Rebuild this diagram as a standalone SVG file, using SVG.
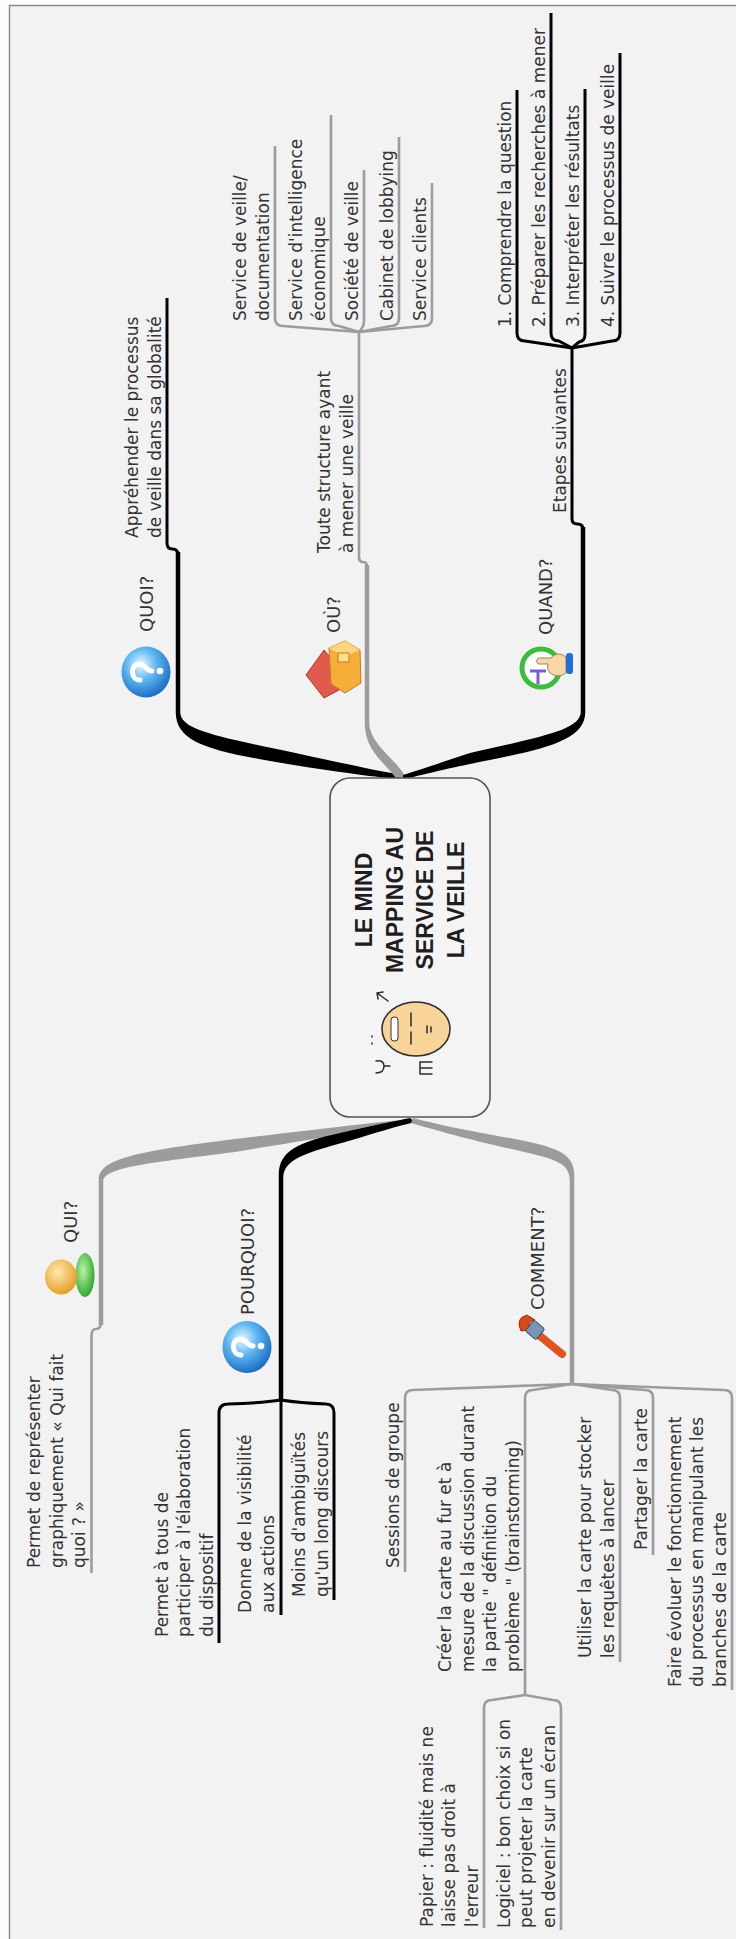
<svg xmlns="http://www.w3.org/2000/svg" width="736" height="1939" viewBox="0 0 736 1939">
  <defs>
    <style>
      .t { font-family: "DejaVu Sans", Verdana, sans-serif; font-size: 17px; fill: #333; }
      .m { font-family: "DejaVu Sans", Verdana, sans-serif; font-size: 18px; fill: #333; }
      .title { font-family: "Liberation Sans", Arial, sans-serif; font-weight: bold; font-size: 23px; fill: #1e1e1e; text-anchor: middle; }
      .kl { fill: none; stroke: #000; stroke-width: 3; stroke-linejoin: round; }
      .gl { fill: none; stroke: #9c9c9c; stroke-width: 2.6; stroke-linejoin: round; }
      .kf { fill: #000; }
      .gf { fill: #9c9c9c; }
      .ink { fill: none; stroke: #2b2b2b; stroke-width: 1.5; stroke-linecap: round; }
    </style>
    <radialGradient id="blueBall" cx="0.4" cy="0.35" r="0.7">
      <stop offset="0" stop-color="#eaf7ff"/>
      <stop offset="0.45" stop-color="#5cb6f0"/>
      <stop offset="1" stop-color="#1565c0"/>
    </radialGradient>
    <radialGradient id="headGrad" cx="0.4" cy="0.35" r="0.7">
      <stop offset="0" stop-color="#ffe9b0"/>
      <stop offset="1" stop-color="#e39a1c"/>
    </radialGradient>
    <radialGradient id="bodyGrad" cx="0.4" cy="0.4" r="0.7">
      <stop offset="0" stop-color="#b9f5a8"/>
      <stop offset="1" stop-color="#1f9e1f"/>
    </radialGradient>
  </defs>

  <!-- page and frame -->
  <rect x="0" y="0" width="736" height="1939" fill="#fbfbfb"/>
  <rect x="9.5" y="5.5" width="740" height="1945" fill="#f2f2f2" stroke="#8c8c8c" stroke-width="1.5"/>

  <!-- branch lines -->
  <g id="connectors">
    <!-- QUOI -->
    <path class="kf" d="M 175.75,552 L 175.75,712 C 175.75,745 215,752 300,766 C 350,774 385,778 401,779 L 401,775 C 380,771 345,764 300,754 C 215,736 180.25,730 180.25,712 L 180.25,552 Z"/>
    <path class="kl" stroke-width="3.5" d="M 167,298 V 543 Q 167,549 172.5,549 Q 178,549 178,555"/>

    <!-- OU -->
    <path class="gf" d="M 364.75,565 L 364.75,722 C 364.75,750 382,760 396,778 L 406,778 C 398,760 369.25,745 369.25,722 L 369.25,565 Z"/>
    <path class="gl" stroke-width="3" d="M 359,332 V 557 Q 359,562 363,562 Q 367,562 367,567"/>
    <path class="gl" d="M 275,146 V 318 Q 275,326 283,326 L 359,332"/>
    <path class="gl" d="M 331,115 V 318 Q 331,326 339,326 L 359,332"/>
    <path class="gl" d="M 364,170 V 321 Q 364,327 359,332"/>
    <path class="gl" d="M 399,137 V 318 Q 399,326 391,326 L 359,332"/>
    <path class="gl" d="M 432,183 V 318 Q 432,326 424,326 L 359,332"/>

    <!-- QUAND -->
    <path class="kf" d="M 585.25,527 L 585.25,712 C 585.25,742 540,750 470,764 C 440,770 415,777 403,779 L 403,775 C 420,770 445,761 470,753 C 540,737 580.75,730 580.75,712 L 580.75,527 Z"/>
    <path class="kl" stroke-width="3.5" d="M 572,348 V 519 Q 572,524 577.5,524 Q 583,524 583,529"/>
    <path class="kl" d="M 517,90 V 333 Q 517,341 525,341 L 572,348"/>
    <path class="kl" d="M 551,13 V 333 Q 551,341 559,341 L 572,348"/>
    <path class="kl" d="M 585,89 V 334 Q 585,341 579,342 L 572,348"/>
    <path class="kl" d="M 620,53 V 333 Q 620,341 612,341 L 572,348"/>

    <!-- QUI -->
    <path class="gf" d="M 98.75,1325 L 98.75,1180 C 98.75,1160 130,1152 235,1139 C 320,1129 380,1122 410,1119 L 416,1121 C 380,1128 320,1138 235,1152 C 140,1164 103.25,1168 103.25,1182 L 103.25,1325 Z"/>
    <path class="gl" stroke-width="3" d="M 101,1322 Q 101,1329 96,1329 Q 91.5,1329 91.5,1336 V 1573"/>

    <!-- POURQUOI -->
    <path class="kf" d="M 278.75,1402 L 278.75,1175 C 278.75,1150 300,1142 340,1133 C 370,1126 395,1121 410,1118 L 415,1122 C 398,1126 375,1133 352,1140 C 310,1152 283.25,1158 283.25,1178 L 283.25,1402 Z"/>
    <path class="kl" d="M 281,1400 V 1615"/>
    <path class="kl" d="M 281,1400 Q 262,1403 228,1404 Q 219,1404 219,1413 V 1643"/>
    <path class="kl" d="M 281,1400 Q 300,1403 326,1404 Q 334,1404 334,1413 V 1600"/>

    <!-- COMMENT -->
    <path class="gf" d="M 574.25,1384 L 574.25,1175 C 574.25,1155 560,1148 520,1140 C 470,1131 435,1124 413,1118 L 411,1123 C 435,1130 470,1140 520,1151 C 555,1159 569.75,1163 569.75,1180 L 569.75,1384 Z"/>
    <path class="gl" d="M 572,1384 L 413,1390 Q 405,1390 405,1398 V 1572"/>
    <path class="gl" d="M 572,1384 L 533,1390 Q 525,1390 525,1398 V 1695"/>
    <path class="gl" d="M 572,1384 L 612,1390 Q 620,1390 620,1398 V 1662"/>
    <path class="gl" d="M 572,1384 L 645,1390 Q 653,1390 653,1398 V 1555"/>
    <path class="gl" d="M 572,1384 L 724,1390 Q 732,1390 732,1398 V 1690"/>
    <path class="gl" d="M 525,1695 L 492,1700 Q 484,1700 484,1708 V 1928"/>
    <path class="gl" d="M 525,1695 L 553,1700 Q 561,1700 561,1708 V 1930"/>
  </g>

  <!-- central topic -->
  <g id="center">
    <rect x="330" y="778" width="160" height="339" rx="20" fill="#f4f4f4" stroke="#555" stroke-width="1.6"/>
    <text class="title" transform="translate(372,900) rotate(-90)"><tspan x="0" y="0">LE MIND</tspan><tspan x="0" dy="30.5">MAPPING AU</tspan><tspan x="0" dy="30.5">SERVICE DE</tspan><tspan x="0" dy="30.5">LA VEILLE</tspan></text>
    <g id="face">
      <ellipse cx="416" cy="1029" rx="34" ry="27" fill="#f8d49a" stroke="#2b2b2b" stroke-width="1.5"/>
      <rect x="391" y="1017" width="7" height="24" rx="3" fill="#fff" stroke="#333" stroke-width="1"/>
      <path class="ink" d="M 411,1013 V 1026 M 411,1032 V 1044"/>
      <path class="ink" d="M 427,1026 V 1033 M 431,1027 V 1032"/>
      <path class="ink" d="M 388,1001 L 377,993 M 377,993 L 378,999 M 377,993 L 383,992"/>
      <path class="ink" d="M 376,1061 Q 384,1060 384,1066 Q 384,1073 376,1073 M 384,1066 L 390,1066"/>
      <path class="ink" d="M 420,1062 H 432 M 420,1068 H 432 M 420,1074 H 432 M 420,1062 V 1074"/>
      <path class="ink" d="M 372,1036 V 1037 M 372,1043 V 1044"/>
    </g>
  </g>

  <!-- QUOI? -->
  <g id="quoi">
    <ellipse cx="146" cy="672" rx="24.5" ry="25.5" fill="url(#blueBall)"/>
    <g transform="translate(146,672) rotate(-90)">
      <path d="M -8,-6 C -8,-16 8,-16 8,-7 C 8,0 1,0 1,6" fill="none" stroke="#fff" stroke-width="5" stroke-linecap="round"/>
      <circle cx="1" cy="14" r="3.3" fill="#fff"/>
    </g>
    <text class="m" transform="translate(152.5,632) rotate(-90)">QUOI?</text>
  </g>
  <g id="quoi-global">
    <text class="t" transform="translate(138,538) rotate(-90)"><tspan x="0" y="0">Appréhender le processus</tspan><tspan x="0" dy="22.5">de veille dans sa globalité</tspan></text>
  </g>

  <!-- OÙ? -->
  <g id="ou">
    <polygon points="306,675 324,650 338,667 339,690 324,698" fill="#e25a4c" stroke="#a83a30" stroke-width="1"/>
    <polygon points="329,648 345,641 360,650 361,683 345,693 331,684" fill="#f7ad3a" stroke="#c7791a" stroke-width="1"/>
    <polygon points="329,648 345,641 360,650 344,657" fill="#ffd680"/>
    <rect x="338" y="653" width="11" height="9" fill="#ffe08a" stroke="#c7791a" stroke-width="1"/>
    <text class="m" transform="translate(339.5,633) rotate(-90)">OÙ?</text>
  </g>
  <g id="ou-structure">
    <text class="t" transform="translate(330,553) rotate(-90)"><tspan x="0" y="0">Toute structure ayant</tspan><tspan x="0" dy="22.5">à mener une veille</tspan></text>
  </g>
  <g id="ou-doc">
    <text class="t" transform="translate(246,321) rotate(-90)"><tspan x="0" y="0">Service de veille/</tspan><tspan x="0" dy="22.5">documentation</tspan></text>
  </g>
  <g id="ou-ie">
    <text class="t" transform="translate(302,321) rotate(-90)"><tspan x="0" y="0">Service d'intelligence</tspan><tspan x="0" dy="22.5">économique</tspan></text>
  </g>
  <g id="ou-societe">
    <text class="t" transform="translate(357.5,321) rotate(-90)">Société de veille</text>
  </g>
  <g id="ou-lobbying">
    <text class="t" transform="translate(392.5,321) rotate(-90)">Cabinet de lobbying</text>
  </g>
  <g id="ou-clients">
    <text class="t" transform="translate(425.5,321) rotate(-90)">Service clients</text>
  </g>

  <!-- QUAND? -->
  <g id="quand">
    <circle cx="541" cy="668" r="19" fill="#fff" stroke="#3dbb3d" stroke-width="5"/>
    <path d="M 530,671 H 546 M 538,671 V 684" fill="none" stroke="#7a5fd0" stroke-width="3"/>
    <path d="M 538,658 H 551 Q 556,652 563,655 L 566,657 L 566,673 Q 558,679 550,673 Q 546,669 548,664 H 538 Q 535,661 538,658 Z" fill="#f7d7a6" stroke="#a9834e" stroke-width="1"/>
    <rect x="566" y="653" width="7" height="21" rx="3" fill="#1e6fd9"/>
    <text class="m" transform="translate(551.5,635) rotate(-90)">QUAND?</text>
  </g>
  <g id="quand-etapes">
    <text class="t" transform="translate(565.5,513) rotate(-90)">Etapes suivantes</text>
  </g>
  <g id="quand-1">
    <text class="t" transform="translate(510.5,327) rotate(-90)">1. Comprendre la question</text>
  </g>
  <g id="quand-2">
    <text class="t" transform="translate(544.5,327) rotate(-90)">2. Préparer les recherches à mener</text>
  </g>
  <g id="quand-3">
    <text class="t" transform="translate(578.5,327) rotate(-90)">3. Interpréter les résultats</text>
  </g>
  <g id="quand-4">
    <text class="t" transform="translate(613.5,327) rotate(-90)">4. Suivre le processus de veille</text>
  </g>

  <!-- QUI? -->
  <g id="qui">
    <ellipse cx="85" cy="1275" rx="9.5" ry="22" fill="url(#bodyGrad)"/>
    <ellipse cx="61" cy="1277" rx="16" ry="17.5" fill="url(#headGrad)"/>
    <text class="m" transform="translate(76.5,1243) rotate(-90)">QUI?</text>
  </g>
  <g id="qui-permet">
    <text class="t" transform="translate(40,1568) rotate(-90)"><tspan x="0" y="0">Permet de représenter</tspan><tspan x="0" dy="22.5">graphiquement « Qui fait</tspan><tspan x="0" dy="22.5">quoi ? »</tspan></text>
  </g>

  <!-- POURQUOI? -->
  <g id="pourquoi">
    <ellipse cx="247" cy="1347" rx="24.5" ry="26" fill="url(#blueBall)"/>
    <g transform="translate(247,1347) rotate(-90)">
      <path d="M -8,-6 C -8,-16 8,-16 8,-7 C 8,0 1,0 1,6" fill="none" stroke="#fff" stroke-width="5" stroke-linecap="round"/>
      <circle cx="1" cy="14" r="3.3" fill="#fff"/>
    </g>
    <text class="m" transform="translate(253.5,1315) rotate(-90)">POURQUOI?</text>
  </g>
  <g id="pourquoi-tous">
    <text class="t" transform="translate(167.5,1637) rotate(-90)"><tspan x="0" y="0">Permet à tous de</tspan><tspan x="0" dy="22.5">participer à l'élaboration</tspan><tspan x="0" dy="22.5">du dispositif</tspan></text>
  </g>
  <g id="pourquoi-visibilite">
    <text class="t" transform="translate(251,1613) rotate(-90)"><tspan x="0" y="0">Donne de la visibilité</tspan><tspan x="0" dy="22.5">aux actions</tspan></text>
  </g>
  <g id="pourquoi-ambiguites">
    <text class="t" transform="translate(305,1597) rotate(-90)"><tspan x="0" y="0">Moins d'ambiguïtés</tspan><tspan x="0" dy="22.5">qu'un long discours</tspan></text>
  </g>

  <!-- COMMENT? -->
  <g id="comment">
    <path d="M 540,1336 L 562,1354" stroke="#e0521e" stroke-width="8" stroke-linecap="round"/>
    <path d="M 521,1331 Q 515,1318 527,1315 L 535,1320 Q 527,1321 529,1330 Z" fill="#d9481a" stroke="#9c2f10" stroke-width="1"/>
    <rect x="-7" y="-7" width="14" height="14" rx="2" transform="translate(535,1330) rotate(40)" fill="#7b95b5" stroke="#3d4f66" stroke-width="1"/>
    <text class="m" transform="translate(544,1310) rotate(-90)">COMMENT?</text>
  </g>
  <g id="comment-sessions">
    <text class="t" transform="translate(398.5,1568) rotate(-90)">Sessions de groupe</text>
  </g>
  <g id="comment-creer">
    <text class="t" transform="translate(451,1672) rotate(-90)"><tspan x="0" y="0">Créer la carte au fur et à</tspan><tspan x="0" dy="22.5">mesure de la discussion durant</tspan><tspan x="0" dy="22.5">la partie " définition du</tspan><tspan x="0" dy="22.5">problème " (brainstorming)</tspan></text>
  </g>
  <g id="comment-utiliser">
    <text class="t" transform="translate(591,1658) rotate(-90)"><tspan x="0" y="0">Utiliser la carte pour stocker</tspan><tspan x="0" dy="22.5">les requêtes à lancer</tspan></text>
  </g>
  <g id="comment-partager">
    <text class="t" transform="translate(646.5,1550) rotate(-90)">Partager la carte</text>
  </g>
  <g id="comment-evoluer">
    <text class="t" transform="translate(680.5,1687) rotate(-90)"><tspan x="0" y="0">Faire évoluer le fonctionnement</tspan><tspan x="0" dy="22.5">du processus en manipulant les</tspan><tspan x="0" dy="22.5">branches de la carte</tspan></text>
  </g>
  <g id="comment-papier">
    <text class="t" transform="translate(432.5,1927) rotate(-90)"><tspan x="0" y="0">Papier : fluidité mais ne</tspan><tspan x="0" dy="22.5">laisse pas droit à</tspan><tspan x="0" dy="22.5">l'erreur</tspan></text>
  </g>
  <g id="comment-logiciel">
    <text class="t" transform="translate(509.5,1928) rotate(-90)"><tspan x="0" y="0">Logiciel : bon choix si on</tspan><tspan x="0" dy="22.5">peut projeter la carte</tspan><tspan x="0" dy="22.5">en devenir sur un écran</tspan></text>
  </g>
</svg>
